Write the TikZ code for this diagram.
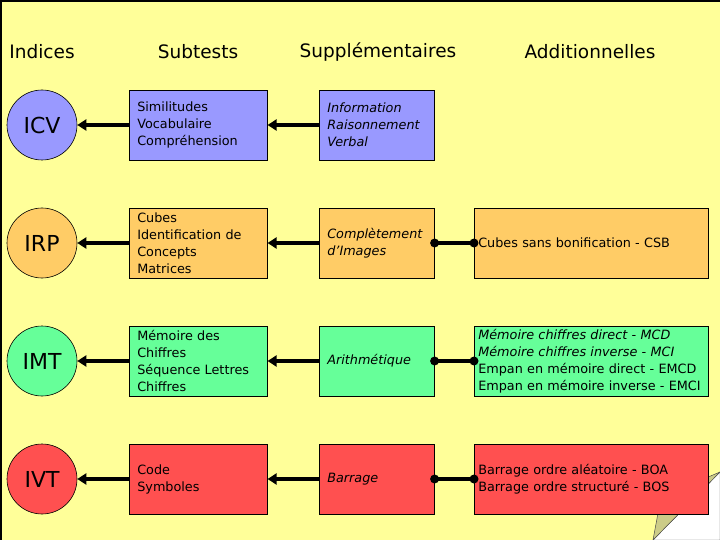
\documentclass[tikz,border=0pt]{standalone}
\usepackage{fontspec}
\setmainfont{DejaVu Sans}
\usetikzlibrary{arrows.meta}
\definecolor{bgyellow}{RGB}{255,255,153}
\definecolor{cblue}{RGB}{153,153,255}
\definecolor{corange}{RGB}{255,204,102}
\definecolor{cgreen}{RGB}{102,255,153}
\definecolor{cred}{RGB}{255,80,80}
\definecolor{colive}{RGB}{204,204,136}
\begin{document}
\begin{tikzpicture}[x=1pt,y=-1pt,
  hdr/.style={font=\fontsize{18.5}{22}\selectfont},
  idx/.style={circle, draw, line width=0.6pt, minimum size=70pt, inner sep=0pt, font=\fontsize{22}{26}\selectfont},
  box/.style={draw, line width=0.6pt, minimum height=70pt, inner xsep=8pt, inner ysep=0pt, align=left, font=\fontsize{12.8}{17}\selectfont, anchor=west},
  sbox/.style={box, text width=122pt},
  pbox/.style={box, text width=99pt, font=\fontsize{12.8}{17}\selectfont\itshape},
  abox/.style={box, text width=226pt, inner xsep=4pt},
  arr/.style={line width=4pt, -{Triangle[length=9pt,width=11pt]}},
  link/.style={line width=4pt},
  dot/.style={fill=black}
]
\useasboundingbox (0,0) rectangle (720,540);
\fill[bgyellow] (0,0) rectangle (720,540);
\draw[line width=4pt] (0,540) -- (0,0) -- (720,0);

% folded corner
\filldraw[fill=white, draw=black!70, line width=0.5pt] (653,540) -- (720,472) -- (720,540) -- cycle;
\filldraw[fill=colive, draw=black!70, line width=0.5pt] (653,540) -- (720,472) -- (661,497) -- cycle;

% headers
\node[hdr] (h1) at (42,52) {Indices};
\node[hdr] (h2) at (198,52) {Subtests};
\node[hdr] (h3) at (378,52) {Supplémentaires};
\node[hdr] (h4) at (590,52) {Additionnelles};

% index circles
\node[idx, fill=cblue] (c1) at (42,125) {ICV};
\node[idx, fill=corange] (c2) at (42,243) {IRP};
\node[idx, fill=cgreen] (c3) at (42,361) {IMT};
\node[idx, fill=cred] (c4) at (42,479) {IVT};

% subtests
\node[sbox, fill=cblue] (s1) at (129,125) {Similitudes\\Vocabulaire\\Compréhension};
\node[sbox, fill=corange] (s2) at (129,243) {Cubes\\Identification de\\Concepts\\Matrices};
\node[sbox, fill=cgreen] (s3) at (129,361) {Mémoire des\\Chiffres\\Séquence Lettres\\Chiffres};
\node[sbox, fill=cred] (s4) at (129,479) {Code\\Symboles};

% supplementary
\node[pbox, fill=cblue] (p1) at (319,125) {Information\\Raisonnement\\Verbal};
\node[pbox, fill=corange] (p2) at (319,243) {Complètement\\d'Images};
\node[pbox, fill=cgreen] (p3) at (319,361) {Arithmétique};
\node[pbox, fill=cred] (p4) at (319,479) {Barrage};

% additional
\node[abox, fill=corange] (a2) at (474,243) {Cubes sans bonification - CSB};
\node[abox, fill=cgreen] (a3) at (474,361) {\textit{Mémoire chiffres direct - MCD}\\\textit{Mémoire chiffres inverse - MCI}\\Empan en mémoire direct - EMCD\\Empan en mémoire inverse - EMCI};
\node[abox, fill=cred] (a4) at (474,479) {Barrage ordre aléatoire - BOA\\Barrage ordre structuré - BOS};

% arrows
\foreach \i in {1,2,3,4} {
  \draw[arr] (s\i) -- (c\i);
  \draw[arr] (p\i) -- (s\i);
}
\foreach \i in {2,3,4} {
  \draw[link] (p\i.east) -- (a\i.west);
  \fill[dot] (p\i.east) circle[radius=4.5];
  \fill[dot] (a\i.west) circle[radius=4.5];
}
\end{tikzpicture}
\end{document}
